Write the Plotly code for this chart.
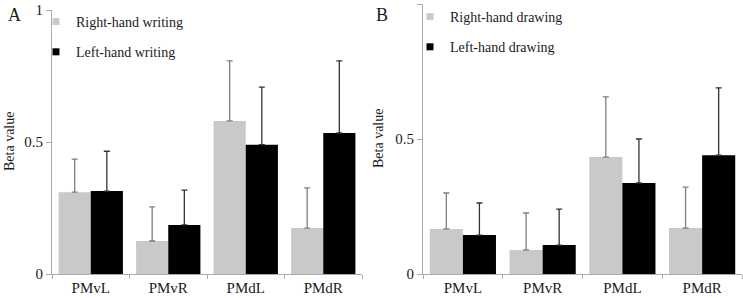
import plotly.graph_objects as go

regions = ["PMvL", "PMvR", "PMdL", "PMdR"]

# Panel A (writing)
right_writing = [0.31, 0.125, 0.58, 0.174]
right_writing_err = [0.125, 0.129, 0.227, 0.152]
left_writing = [0.314, 0.186, 0.49, 0.534]
left_writing_err = [0.151, 0.132, 0.218, 0.273]

# Panel B (drawing)
right_drawing = [0.167, 0.089, 0.433, 0.17]
right_drawing_err = [0.133, 0.137, 0.223, 0.152]
left_drawing = [0.144, 0.107, 0.337, 0.44]
left_drawing_err = [0.119, 0.133, 0.163, 0.249]

y_ticks = [0, 0.5, 1]
y_tick_labels = ["0", "0.5", "1"]
y_title = "Beta value"

LIGHT = "#c9c9c9"
DARK = "#000000"
FONT = "Liberation Serif"
TXT = "#1a1a1a"
AXIS = "#ababab"

fig = go.Figure()

def add_bars(xa, ya, vals, errs, color, errcolor):
    fig.add_trace(go.Bar(
        x=regions, y=vals, xaxis=xa, yaxis=ya,
        marker=dict(color=color, line=dict(width=0)),
        error_y=dict(type="data", array=errs, symmetric=False,
                     arrayminus=[0]*len(errs), color=errcolor,
                     thickness=1.3, width=3),
        showlegend=False,
    ))

add_bars("x", "y", right_writing, right_writing_err, LIGHT, "#7f7f7f")
add_bars("x", "y", left_writing, left_writing_err, DARK, "#333333")
add_bars("x2", "y2", right_drawing, right_drawing_err, LIGHT, "#7f7f7f")
add_bars("x2", "y2", left_drawing, left_drawing_err, DARK, "#333333")

def add_leg(name, color, legend, group):
    fig.add_trace(go.Scatter(
        x=[None], y=[None], mode="markers", name=name,
        marker=dict(symbol="square", size=7, color=color),
        legend=legend, legendgroup=group, showlegend=True,
    ))

add_leg("Right-hand writing", LIGHT, "legend", "a1")
add_leg("Left-hand writing", DARK, "legend", "a2")
add_leg("Right-hand drawing", LIGHT, "legend2", "b1")
add_leg("Left-hand drawing", DARK, "legend2", "b2")

W, H = 743, 298

def fx(p):
    return p / W

def fy(p):
    return 1 - p / H

axis_line = dict(showline=True, linecolor=AXIS, linewidth=1,
                 ticks="outside", tickcolor=AXIS,
                 showgrid=False, zeroline=False,
                 tickfont=dict(family=FONT, size=15, color=TXT))

xcommon = dict(tickson="boundaries", ticklen=4, **axis_line)
ycommon = dict(range=[0, 1], tickvals=y_ticks, ticktext=y_tick_labels,
               ticklen=5, **axis_line)

leg_common = dict(xanchor="left", yanchor="top", xref="paper",
                  yref="paper", bgcolor="rgba(0,0,0,0)",
                  font=dict(family=FONT, size=14, color=TXT),
                  tracegroupgap=9, itemwidth=30)

ann_font = dict(family=FONT, size=18, color=TXT)
title_font = dict(family=FONT, size=14, color=TXT)

fig.update_layout(
    width=W, height=H,
    margin=dict(l=0, r=0, t=0, b=0, autoexpand=False),
    paper_bgcolor="white", plot_bgcolor="white",
    barmode="group", bargap=0.17, bargroupgap=0,
    font=dict(family=FONT, color=TXT),
    xaxis=dict(domain=[fx(52), fx(362)], anchor="y", **xcommon),
    yaxis=dict(domain=[fy(274), fy(10)], anchor="x", **ycommon),
    xaxis2=dict(domain=[fx(423), fx(742)], anchor="y2", **xcommon),
    yaxis2=dict(domain=[fy(274), fy(4)], anchor="x2", **ycommon),
    legend=dict(x=fx(36), y=fy(6), **leg_common),
    legend2=dict(x=fx(410), y=fy(1), **leg_common),
    annotations=[
        dict(text="A", xref="paper", yref="paper", x=fx(14), y=fy(15),
             xanchor="center", yanchor="middle", showarrow=False,
             font=ann_font),
        dict(text="B", xref="paper", yref="paper", x=fx(382), y=fy(15),
             xanchor="center", yanchor="middle", showarrow=False,
             font=ann_font),
        dict(text=y_title, xref="paper", yref="paper", x=fx(9), y=fy(142),
             xanchor="center", yanchor="middle", textangle=-90,
             showarrow=False, font=title_font),
        dict(text=y_title, xref="paper", yref="paper", x=fx(379), y=fy(139),
             xanchor="center", yanchor="middle", textangle=-90,
             showarrow=False, font=title_font),
    ],
)

fig.write_html("out.html",
               config={"displayModeBar": False},
               post_script="document.body.style.margin='0';")
